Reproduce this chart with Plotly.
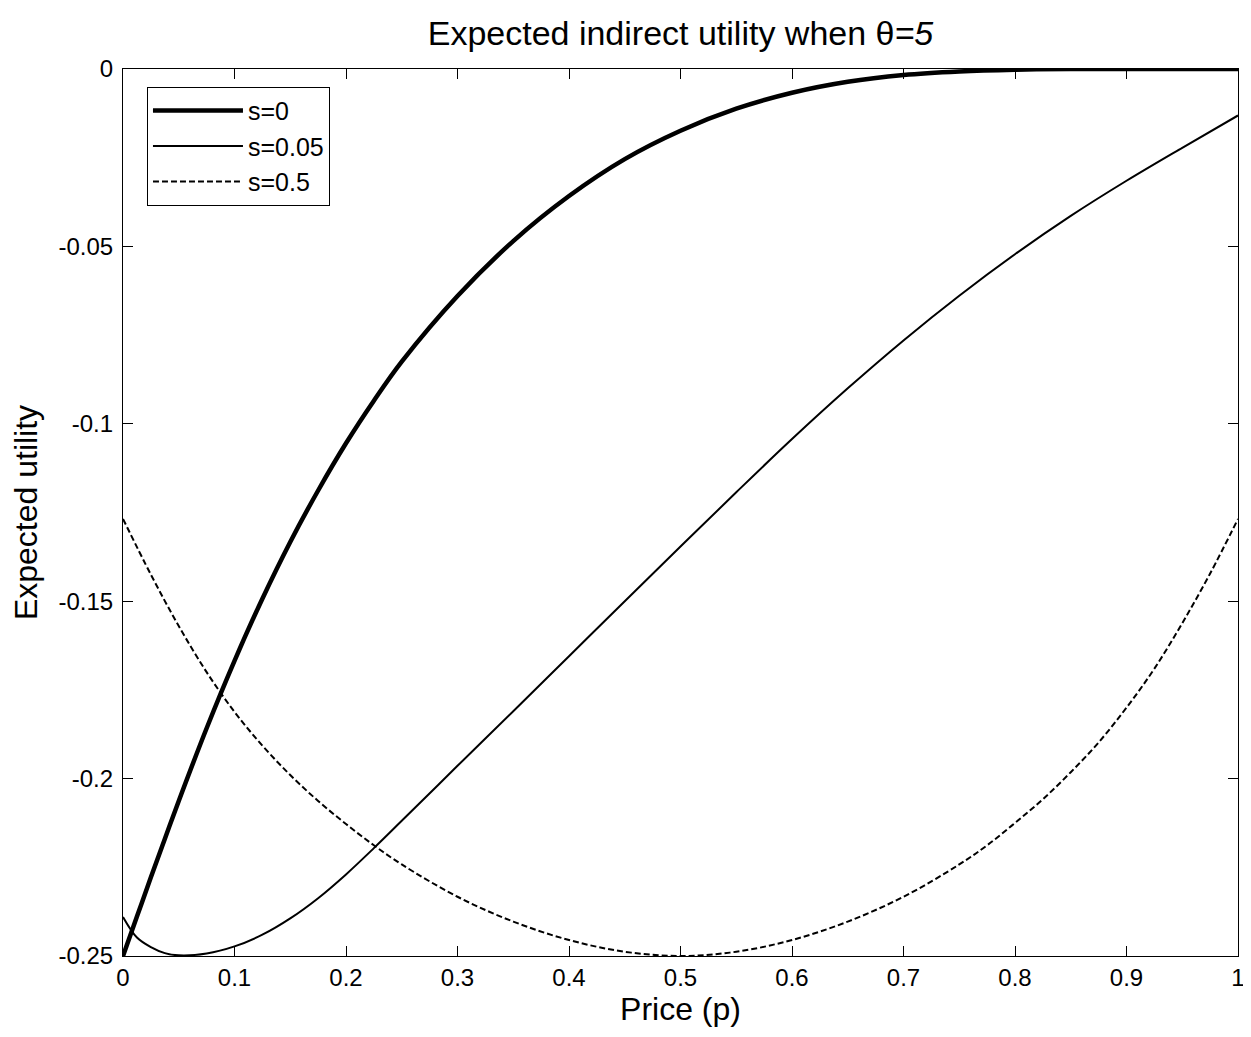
import plotly.graph_objects as go

# Price grid (x values)
price = [0, 0.0125, 0.025, 0.0375, 0.05, 0.075, 0.1, 0.125, 0.15, 0.175, 0.2,
         0.225, 0.25, 0.3, 0.35, 0.4, 0.45, 0.5, 0.55, 0.6, 0.65, 0.7, 0.75,
         0.8, 0.85, 0.9, 0.95, 1.0]

# s = 0 (thick solid)
util_s0 = [-0.2500, -0.2389, -0.2278, -0.2170, -0.2063, -0.1858, -0.1668,
           -0.1493, -0.1333, -0.1188, -0.1055, -0.0935, -0.0825, -0.0640,
           -0.0485, -0.0358, -0.0254, -0.0174, -0.0112, -0.0067, -0.0036,
           -0.0017, -0.0007, -0.0002, 0.0, 0.0, 0.0, 0.0]

# s = 0.05 (thin solid)
util_s005 = [-0.2390, -0.2448, -0.2475, -0.2492, -0.2498, -0.2493, -0.2473,
             -0.2440, -0.2394, -0.2337, -0.2270, -0.2196, -0.2119, -0.1964,
             -0.1810, -0.1655, -0.1500, -0.1346, -0.1193, -0.1043, -0.0900,
             -0.0765, -0.0639, -0.0522, -0.0414, -0.0315, -0.0222, -0.0131]

# s = 0.5 (dashed)
price_s05 = [0, 0.025, 0.05, 0.075, 0.1, 0.125, 0.15, 0.175, 0.2, 0.225, 0.25,
             0.3, 0.35, 0.4, 0.45, 0.5, 0.55, 0.6, 0.65, 0.7, 0.75, 0.775,
             0.8, 0.825, 0.85, 0.875, 0.9, 0.925, 0.95, 0.975, 1.0]
util_s05 = [-0.1268, -0.1425, -0.1570, -0.1700, -0.1812, -0.1907, -0.1990,
            -0.2063, -0.2128, -0.2188, -0.2242, -0.2333, -0.2403, -0.2455,
            -0.2488, -0.2500, -0.2488, -0.2455, -0.2403, -0.2333, -0.2242,
            -0.2188, -0.2125, -0.2058, -0.1982, -0.1898, -0.1800, -0.1690,
            -0.1562, -0.1422, -0.1268]

x_ticks = [0, 0.1, 0.2, 0.3, 0.4, 0.5, 0.6, 0.7, 0.8, 0.9, 1]
x_ticklabels = ["0", "0.1", "0.2", "0.3", "0.4", "0.5", "0.6", "0.7", "0.8", "0.9", "1"]
y_ticks = [-0.25, -0.2, -0.15, -0.1, -0.05, 0]
y_ticklabels = ["-0.25", "-0.2", "-0.15", "-0.1", "-0.05", "0"]

FONT = "Liberation Sans, Arial, Helvetica, sans-serif"

fig = go.Figure()
fig.add_trace(go.Scatter(x=price, y=util_s0, mode="lines", name="s=0",
                         line=dict(color="black", width=4.5, shape="spline", smoothing=1.0)))
fig.add_trace(go.Scatter(x=price, y=util_s005, mode="lines", name="s=0.05",
                         line=dict(color="black", width=2, shape="spline", smoothing=1.0)))
fig.add_trace(go.Scatter(x=price_s05, y=util_s05, mode="lines", name="s=0.5",
                         line=dict(color="black", width=2, dash="6px,3px",
                                   shape="spline", smoothing=1.0)))

axis_common = dict(
    showline=True, linecolor="black", linewidth=1.2, mirror="ticks",
    ticks="inside", ticklen=10, tickcolor="black", tickwidth=1,
    showgrid=False, zeroline=False, ticklabeloverflow="allow", automargin=False,
    tickfont=dict(family=FONT, size=24, color="black"),
)

# page body has an 8px margin, so the figure is sized to fit the window
fig.update_layout(
    width=1243, height=1021,
    margin=dict(l=115, r=13, t=61, b=73),
    paper_bgcolor="white", plot_bgcolor="white",
    font=dict(family=FONT, color="black"),
    title=dict(text="Expected indirect utility when θ<i>=5</i>",
               xref="paper", x=0.5, xanchor="center",
               yref="container", y=0.9755, yanchor="middle",
               font=dict(family=FONT, size=34, color="black")),
    xaxis=dict(range=[0, 1], tickvals=x_ticks, ticktext=x_ticklabels,
               title=dict(text="Price (p)", font=dict(family=FONT, size=32), standoff=2),
               **axis_common),
    yaxis=dict(range=[-0.25, 0], tickvals=y_ticks, ticktext=y_ticklabels,
               ticklabelstandoff=4,
               title=dict(text="Expected utility", font=dict(family=FONT, size=32), standoff=12),
               **axis_common),
    legend=dict(x=0.0215, y=0.98, xanchor="left", yanchor="top",
                bgcolor="white", bordercolor="black", borderwidth=1,
                font=dict(family=FONT, size=25, color="black"),
                itemwidth=90, tracegroupgap=0),
    showlegend=True,
)

fig.write_html("out.html")
